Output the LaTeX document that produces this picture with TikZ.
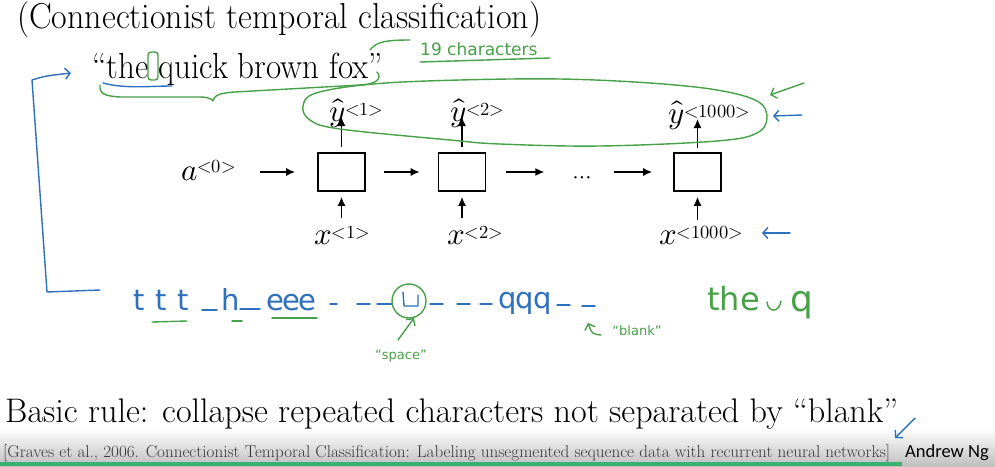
\documentclass[tikz,border=0pt]{standalone}
\usepackage{unicode-math}
\usetikzlibrary{arrows.meta}
\newfontfamily\handfont{DejaVu Sans}
\newfontfamily\ngfont{Carlito}
\definecolor{hgreen}{RGB}{72,160,72}
\definecolor{hblue}{RGB}{45,112,190}
\definecolor{barGreen}{RGB}{56,178,110}
\definecolor{capgray}{RGB}{55,55,55}
\newcommand\supr[2][7pt]{\raisebox{#1}{\fontsize{18.5}{19}\selectfont$#2$}}
\begin{document}
\begin{tikzpicture}[x=1pt,y=-1pt,
  cell/.style={draw,line width=1.6pt,minimum width=47pt,minimum height=38pt,inner sep=0pt},
  arr/.style={-{Latex[length=9pt,width=8pt]},line width=1.5pt},
  lab/.style={inner sep=0pt,anchor=base west,font=\fontsize{31}{36}\selectfont},
  slide/.style={inner sep=0pt,anchor=base west},
  gpen/.style={draw=hgreen,line width=1.4pt,line cap=round,line join=round},
  bpen/.style={draw=hblue,line width=1.4pt,line cap=round,line join=round},
  barb/.style={-{Straight Barb[length=5pt,width=11pt]}},
  hb/.style={text=hblue,inner sep=0pt,anchor=base,font=\handfont\fontsize{29}{34}\selectfont},
  hg/.style={text=hgreen,inner sep=0pt,font=\handfont\fontsize{13}{15}\selectfont}
]
\useasboundingbox (0,0) rectangle (995,466);
\fill[white] (0,0) rectangle (995,466);
\shade[top color=white,bottom color=black!25] (0,428) rectangle (995,466);
\fill[barGreen] (0,462) rectangle (902,466);

% slide texts
\node[slide] (title) at (17,28) {\scalebox{1}[1.06]{\resizebox{524pt}{!}{\fontsize{30}{36}\selectfont (Connectionist temporal classification)}}};
\node[slide] (quote) at (92,78) {\scalebox{1}[1.1]{\resizebox{291pt}{!}{\fontsize{30}{36}\selectfont “the quick brown fox”}}};
\node[slide] (rule) at (5,422) {\resizebox{893pt}{!}{\fontsize{30}{36}\selectfont Basic rule: collapse repeated characters not separated by “blank”}};
\node[slide,text=capgray] (cite) at (3,457) {\resizebox{887pt}{!}{\fontsize{16}{19}\selectfont [Graves et al., 2006. Connectionist Temporal Classification: Labeling unsegmented sequence data with recurrent neural networks]}};
\node[slide] (ng) at (905,457.5) {\ngfont\fontsize{18.5}{22}\selectfont Andrew Ng};

% RNN
\node[cell] (box1) at (341.5,172) {};
\node[cell] (box2) at (462,172) {};
\node[cell] (box3) at (697.5,172) {};
\node[lab] (a0) at (181,180) {$a$\supr[8pt]{{<}0{>}}};
\node[inner sep=0pt,anchor=base,font=\fontsize{23}{26}\selectfont] (dots) at (582.5,183) {$\cdots$};
\node[lab] (yh1) at (329,121) {$\hat{y}$\supr[6pt]{{<}1{>}}};
\node[lab] (yh2) at (450,121) {$\hat{y}$\supr[6pt]{{<}2{>}}};
\node[lab] (yh3) at (668,123) {$\hat{y}$\supr[6pt]{{<}1000{>}}};
\node[lab] (x1) at (314,244) {$x$\supr[6pt]{{<}1{>}}};
\node[lab] (x2) at (447,244) {$x$\supr[6pt]{{<}2{>}}};
\node[lab] (x3) at (659,244) {$x$\supr[6pt]{{<}1000{>}}};

\coordinate (x1t) at (341.5,218);
\coordinate (x2t) at (462,218);
\coordinate (x3t) at (697.5,220);

\draw[arr,shorten <=24pt,shorten >=22pt] (a0.east |- box1.west) -- (box1.west);
\draw[arr,shorten <=18pt,shorten >=18pt] (box1.east) -- (box2.west);
\draw[arr,shorten <=20pt,shorten >=29pt] (box2.east) -- (dots.west |- box2.east);
\draw[arr,shorten <=22pt,shorten >=21pt] (dots.east |- box3.west) -- (box3.west);
\draw[arr,shorten <=5pt,shorten >=-4pt] (box1.north) -- (box1.north |- yh1.base);
\draw[arr,shorten <=5pt,shorten >=-4pt] (box2.north) -- (box2.north |- yh2.base);
\draw[arr,shorten <=4pt,shorten >=-4pt] (box3.north) -- (box3.north |- yh3.base);
\draw[arr,shorten >=5pt] (x1t) -- (box1.south);
\draw[arr,shorten >=5pt] (x2t) -- (box2.south);
\draw[arr,shorten >=5pt] (x3t) -- (box3.south);

% green annotations at top
\draw[gpen,rounded corners=3pt] (148,52) rectangle (158,80);
\draw[bpen] (103,83) .. controls (125,89) and (150,86) .. (172,86);
\draw[gpen] (100,85) .. controls (99,94) and (105,96) .. (120,97) -- (200,97)
  .. controls (208,97) and (212,99) .. (213,101)
  .. controls (214,96) and (218,93) .. (235,92) -- (360,85)
  .. controls (378,84) and (382,78) .. (377,72);
\draw[gpen] plot[smooth cycle,tension=0.6] coordinates {(303,106) (316,93) (373,84) (460,80) (560,79) (650,83) (717,90) (757,101) (767,117) (757,133) (717,141) (600,146) (500,144) (450,140) (340,129) (310,120)};
\draw[gpen] (370,50) .. controls (376,42) and (385,40) .. (410,40);
\node[hg,anchor=base west,font=\handfont\fontsize{17}{20}\selectfont] (chars) at (420,55) {19 characters};
\draw[gpen] (420,62) -- (550,58);
\draw[gpen,barb] (804,83) -- (770,95);
\draw[bpen,barb] (802,115) -- (773,116);
\draw[bpen,barb] (790,233) -- (762,233);
\draw[bpen,barb] (100,290) -- (47,292) -- (32,80) .. controls (45,76) .. (71,73);

% blue output sequence
\node[hb] (t1) at (139,310) {t};
\node[hb] (t2) at (161,310) {t};
\node[hb] (t3) at (183,310) {t};
\node[hb] (h1) at (231,310) {h};
\node[hb] (e1) at (275,310) {e};
\node[hb] (e2) at (291,310) {e};
\node[hb] (e3) at (307,310) {e};
\node[hb] (q1) at (508,308) {q};
\node[hb] (q2) at (525,308) {q};
\node[hb] (q3) at (543,308) {q};
\foreach \xa/\xb/\yy in {202/217/310, 240/260/309, 330/337/304, 357/370/304, 377/392/304,
  430/443/304, 457/470/304, 480/492/304, 557/570/305, 582/595/306}
  \draw[bpen] (\xa,\yy) -- (\xb,\yy);
\draw[bpen] (403,292) -- (404,306) -- (418,306) -- (418,295);
\draw[gpen] (409,301) circle (17);
\draw[gpen] (152,322) -- (187,321);
\draw[gpen] (232,321) -- (242,321);
\draw[gpen] (272,318) -- (317,318);
\draw[gpen,barb] (398,340) -- (414,318);
\node[hg] (space) at (401,356) {“space”};
\draw[gpen,barb] (601,335) .. controls (592,334) .. (588,323);
\node[hg] (blank) at (637,331) {“blank”};
% green collapsed result
\node[hg,anchor=base west,font=\handfont\fontsize{32}{36}\selectfont] (the) at (707,310) {the};
\draw[gpen] (767,302) .. controls (768,313) and (779,313) .. (781,301);
\node[hg,anchor=base west,font=\handfont\fontsize{36}{40}\selectfont] (qg) at (790,311) {q};
% bottom blue arrow
\draw[bpen,barb] (915,418) -- (895,438);
\end{tikzpicture}
\end{document}
